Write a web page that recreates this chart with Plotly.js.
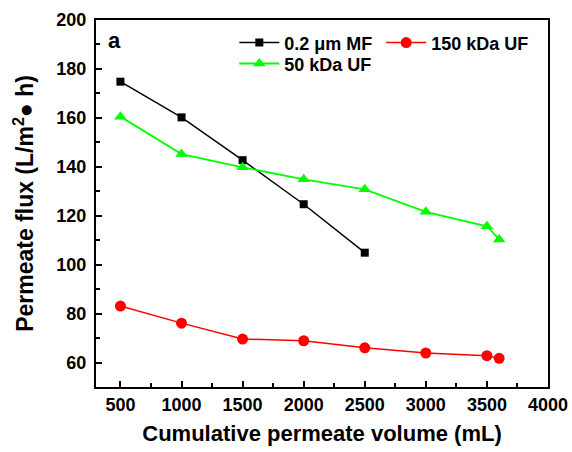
<!DOCTYPE html>
<html>
<head>
<meta charset="utf-8">
<script src="https://cdn.plot.ly/plotly-3.0.1.min.js"></script>
<style>html,body{margin:0;padding:0;background:#fff;}#chart{width:572px;height:452px;}</style>
</head>
<body>
<div id="chart"></div>
<script>
const volumeMF = [500, 1000, 1500, 2000, 2500];
const fluxMF = [174.8, 160.2, 142.7, 124.7, 104.9];
const volume150 = [500, 1000, 1500, 2000, 2500, 3000, 3500, 3600];
const flux150 = [83.1, 76.1, 69.6, 68.9, 66.0, 63.9, 62.8, 61.7];
const volume50 = [500, 1000, 1500, 2000, 2500, 3000, 3500, 3600];
const flux50 = [160.5, 145.2, 139.8, 134.9, 130.8, 121.6, 115.7, 110.3];
const seriesNames = ["0.2 \u03bcm MF", "150 kDa UF", "50 kDa UF"];
const xTicks = [500, 1000, 1500, 2000, 2500, 3000, 3500, 4000];
const xMinorTicks = [750, 1250, 1750, 2250, 2750, 3250, 3750];
const yTicks = [60, 80, 100, 120, 140, 160, 180, 200];
const yMinorTicks = [70, 90, 110, 130, 150, 170, 190];
const xRange = [300, 4000];
const yRange = [50, 200];

const FONT = "Liberation Sans, Arial, sans-serif";

const traces = [
  {x: volumeMF, y: fluxMF, name: seriesNames[0], mode: "lines+markers", legend: "legend",
   line: {color: "#000000", width: 1.5},
   marker: {symbol: "square", size: 8, color: "#000000"}},
  {x: volume150, y: flux150, name: seriesNames[1], mode: "lines+markers", legend: "legend3",
   line: {color: "#ff0000", width: 1.5},
   marker: {symbol: "circle", size: 11, color: "#ff0000"}},
  {x: volume50, y: flux50, name: seriesNames[2], mode: "lines+markers", legend: "legend2",
   line: {color: "#00ff00", width: 1.8},
   marker: {symbol: "triangle-up", size: 11, color: "#00ff00"}}
];

const legendCommon = {
  orientation: "h", xanchor: "left", yanchor: "top",
  bgcolor: "rgba(0,0,0,0)", borderwidth: 0,
  font: {family: FONT, size: 18, color: "#000", weight: "bold"},
  itemwidth: 40, tracegroupgap: 0
};

const layout = {
  width: 572, height: 452,
  margin: {l: 96, r: 24, t: 20, b: 65},
  paper_bgcolor: "#fff", plot_bgcolor: "#fff",
  font: {family: FONT, color: "#000"},
  showlegend: true,
  legend: Object.assign({}, legendCommon, {x: 0.306, y: 0.988}),
  legend3: Object.assign({}, legendCommon, {x: 0.631, y: 0.988}),
  legend2: Object.assign({}, legendCommon, {x: 0.306, y: 0.931}),
  xaxis: {
    range: xRange, showgrid: false, zeroline: false,
    showline: true, linecolor: "#000", linewidth: 2, mirror: true,
    ticks: "inside", ticklen: 6, tickwidth: 2, tickcolor: "#000",
    tickmode: "array", tickvals: xTicks, ticktext: xTicks.map(String),
    tickfont: {family: FONT, size: 18, color: "#000", weight: "bold"},
    title: {text: "Cumulative permeate volume (mL)", standoff: 12,
            font: {family: FONT, size: 22, color: "#000", weight: "bold"}}
  },
  yaxis: {
    range: yRange, showgrid: false, zeroline: false,
    showline: true, linecolor: "#000", linewidth: 2, mirror: true,
    ticks: "inside", ticklen: 6, tickwidth: 2, tickcolor: "#000",
    tickmode: "array", tickvals: yTicks, ticktext: yTicks.map(String),
    ticklabelstandoff: 4,
    tickfont: {family: FONT, size: 18, color: "#000", weight: "bold"},
    title: {text: "Permeate flux (L/m<sup>2</sup>\u25cf h)", standoff: 16,
            font: {family: FONT, size: 23, color: "#000", weight: "bold"}}
  },
  xaxis2: {
    overlaying: "x", side: "bottom", anchor: "y", matches: "x", range: xRange,
    showgrid: false, zeroline: false, showline: false, showticklabels: false,
    ticks: "inside", ticklen: 4, tickwidth: 2, tickcolor: "#000",
    tickmode: "array", tickvals: xMinorTicks
  },
  yaxis2: {
    overlaying: "y", side: "left", anchor: "x", matches: "y", range: yRange,
    showgrid: false, zeroline: false, showline: false, showticklabels: false,
    ticks: "inside", ticklen: 4, tickwidth: 2, tickcolor: "#000",
    tickmode: "array", tickvals: yMinorTicks
  },
  annotations: [
    {text: "a", xref: "paper", yref: "paper", x: 0.022, y: 0.985, xanchor: "left", yanchor: "top",
     showarrow: false, font: {family: FONT, size: 22, color: "#000", weight: "bold"}}
  ]
};

// invisible helper trace so the minor-tick overlay axes are drawn
traces.push({x: [xRange[0]], y: [yRange[0]], xaxis: "x2", yaxis: "y2", mode: "markers",
             marker: {opacity: 0}, showlegend: false, hoverinfo: "skip"});

Plotly.newPlot("chart", traces, layout, {displayModeBar: false, staticPlot: true});
</script>
</body>
</html>
